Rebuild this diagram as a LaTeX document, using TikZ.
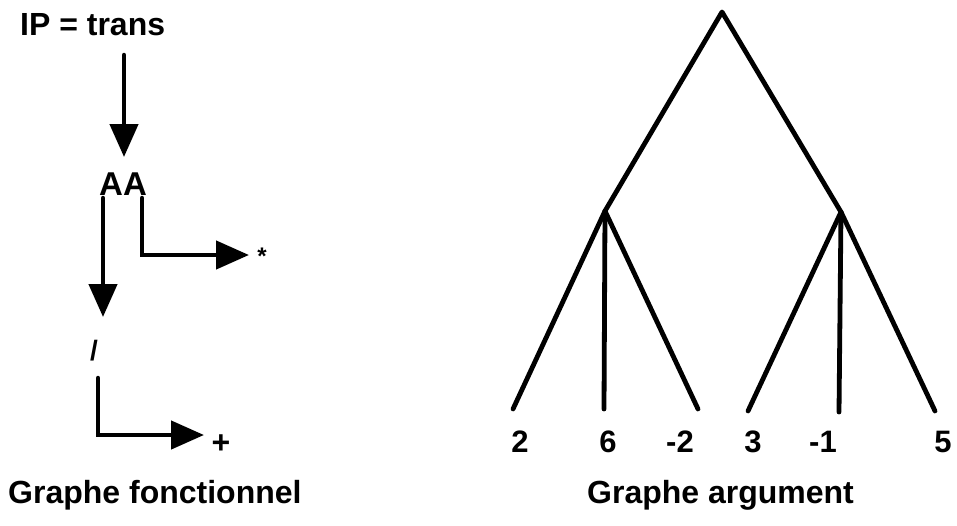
\documentclass[tikz,border=0pt]{standalone}
\usepackage{fontspec}
\setmainfont{Liberation Sans}
\usetikzlibrary{arrows.meta}
\tikzset{
  conn/.style={line width=4.5pt, line cap=round, line join=miter},
  arr/.style={conn, -{Triangle[length=33pt,width=28pt]}},
  branch/.style={line width=4.8pt, line cap=round, line join=round},
  lbl/.style={inner sep=0pt, font=\fontsize{32}{38}\selectfont\bfseries},
  num/.style={inner sep=0pt, anchor=base, font=\fontsize{31}{36}\selectfont\bfseries},
}
\begin{document}
\begin{tikzpicture}[x=1pt,y=-1pt]
\useasboundingbox (0,0) rectangle (957,525);
% functional graph
\node[lbl, anchor=base west] (ip) at (20,35) {IP = trans};
\node[lbl, anchor=base west, font=\fontsize{33}{40}\selectfont\bfseries] (aa) at (99,195) {AA};
\node[lbl, anchor=center, font=\fontsize{28}{36}\selectfont\bfseries] (div) at (94,351) {/};
\node[lbl, anchor=center, font=\fontsize{24}{30}\selectfont\bfseries] (mul) at (262,256) {*};
\node[lbl, anchor=center] (add) at (221,444) {+};
\coordinate (a1s) at (124,55);
\coordinate (a1e) at (124,157);
\coordinate (a2s) at (103,198);
\coordinate (a2e) at (103,317);
\coordinate (a3s) at (142,198);
\coordinate (a3c) at (142,255);
\coordinate (a3e) at (249,255);
\coordinate (a4s) at (98,378);
\coordinate (a4c) at (98,435);
\coordinate (a4e) at (204,435);
\draw[arr] (a1s) -- (a1e);
\draw[arr] (a2s) -- (a2e);
\draw[arr] (a3s) -- (a3c) -- (a3e);
\draw[arr] (a4s) -- (a4c) -- (a4e);
\node[lbl, anchor=base west] (t1) at (8,503) {Graphe fonctionnel};
% argument graph
\coordinate (root) at (722,12);
\coordinate (nl) at (605,211);
\coordinate (nr) at (841,212);
\coordinate (l1) at (513,409);
\coordinate (l2) at (604,409);
\coordinate (l3) at (698,409);
\coordinate (l4) at (748,411);
\coordinate (l5) at (839,412);
\coordinate (l6) at (935,411);
\draw[branch] (nl) -- (root) -- (nr);
\draw[branch] (l1) -- (nl) -- (l3);
\draw[branch] (nl) -- (l2);
\draw[branch] (l4) -- (nr) -- (l6);
\draw[branch] (nr) -- (l5);
\node[num] (n1) at (520,452) {2};
\node[num] (n2) at (608,452) {6};
\node[num] (n3) at (680,452) {-2};
\node[num] (n4) at (753,452) {3};
\node[num] (n5) at (823,452) {-1};
\node[num] (n6) at (943,452) {5};
\node[lbl, anchor=base west] (t2) at (587,503) {Graphe argument};
\end{tikzpicture}
\end{document}
